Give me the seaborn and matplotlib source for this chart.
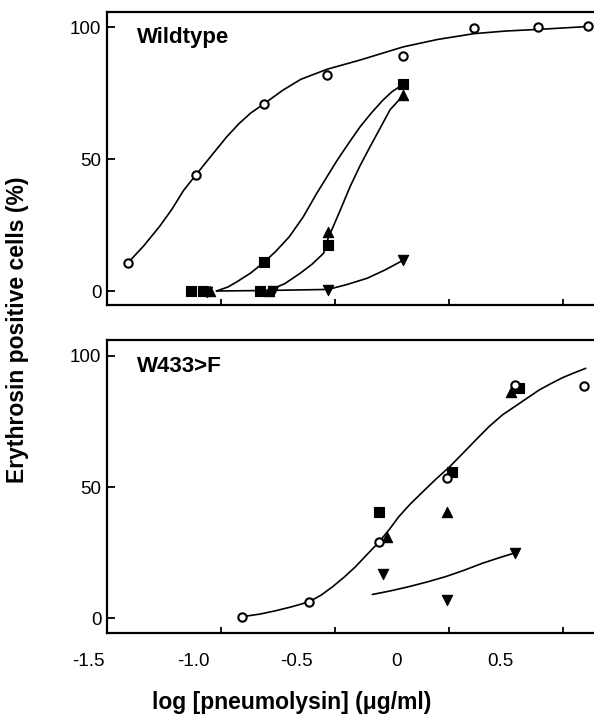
# Erythrosin uptake vs pneumolysin dose, wildtype and W433>F panels
import numpy as np
import matplotlib
matplotlib.use("Agg")
import matplotlib.pyplot as plt
import pandas as pd
import seaborn as sns

# ---- data (log dose, % positive cells) ----
# Wildtype panel: measured points
wt_open_x = [-1.41, -1.11, -0.81, -0.535, -0.20, 0.11, 0.39, 0.61]
wt_open_y = [10.5, 44, 71, 82, 89, 99.7, 100, 100.4]
wt_sq_x = [-1.13, -1.08, -0.83, -0.81, -0.53, -0.20]
wt_sq_y = [0, 0, 0, 11, 17.4, 78.4]
wt_tri_x = [-1.05, -0.79, -0.53, -0.20]
wt_tri_y = [0, 0, 22.5, 74.2]
wt_inv_x = [-1.06, -0.77, -0.53, -0.20]
wt_inv_y = [-0.5, 0, 0.4, 11.7]

# Wildtype panel: fitted curves (traced)
wt_fit_open_x = [-1.41, -1.34, -1.27, -1.215, -1.165, -1.11, -1.04, -0.975, -0.92, -0.87, -0.81,
                 -0.73, -0.65, -0.535, -0.39, -0.2, -0.05, 0.11, 0.25, 0.39, 0.61]
wt_fit_open_y = [10.5, 17, 24.4, 31, 38, 44, 51.5, 58.4, 63.5, 67.4, 71,
                 76, 80.2, 84, 87.5, 92.5, 95.3, 97.5, 98.5, 99.1, 100.2]
wt_fit_sq_x = [-1.02, -0.97, -0.93, -0.87, -0.81, -0.76, -0.70, -0.64, -0.58, -0.49, -0.44, -0.39,
               -0.34, -0.29, -0.25, -0.20]
wt_fit_sq_y = [0, 1.5, 3.5, 6.8, 11, 15, 20.6, 28, 37, 49.6, 56, 62.2, 67.5, 72.3, 75.5, 78.4]
wt_fit_tri_x = [-0.785, -0.72, -0.653, -0.60, -0.55, -0.53, -0.48, -0.434, -0.39, -0.346, -0.30,
                -0.259, -0.20]
wt_fit_tri_y = [0.4, 2.8, 6.7, 10.2, 14.3, 20, 30, 39.5, 47.5, 54.7, 62, 68.6, 74.2]
wt_fit_inv_x = [-1.02, -0.80, -0.53, -0.45, -0.36, -0.28, -0.20]
wt_fit_inv_y = [0, 0.2, 0.6, 2.4, 4.8, 8, 11.7]

# W433>F panel: measured points
mut_open_x = [-0.91, -0.614, -0.307, -0.007, 0.29, 0.59]
mut_open_y = [0.5, 6.2, 29.1, 53.3, 88.9, 88.5]
mut_sq_x = [-0.307, 0.015, 0.307]
mut_sq_y = [40.6, 55.8, 87.7]
mut_tri_x = [-0.27, -0.007, 0.27]
mut_tri_y = [31, 40.6, 86.4]
mut_inv_x = [-0.29, -0.007, 0.29]
mut_inv_y = [17, 6.9, 24.7]

# W433>F panel: fitted curves (traced)
mut_fit_x = [-0.91, -0.83, -0.76, -0.69, -0.614, -0.56, -0.51, -0.46, -0.41, -0.36, -0.307, -0.26,
             -0.22, -0.17, -0.117, -0.06, 0.0, 0.06, 0.117, 0.175, 0.234, 0.29, 0.336, 0.395, 0.45,
             0.5, 0.55, 0.60]
mut_fit_y = [0.5, 1.5, 2.8, 4.3, 6.2, 8.8, 12, 15.6, 19.6, 24.2, 29, 34, 38.7, 43.5, 48, 52.8,
             57.5, 62.8, 67.9, 73, 77.5, 80.8, 83.5, 87, 89.6, 91.8, 93.6, 95.3]
mut_fit_inv_x = [-0.336, -0.255, -0.175, -0.095, -0.015, 0.065, 0.146, 0.22, 0.29]
mut_fit_inv_y = [9.0, 10.4, 12, 13.8, 15.8, 18.2, 20.9, 23, 24.9]

tick_vals = [-1.0, -0.5, 0.0, 0.5]
tick_labels = ["-1.5", "-1.0", "-0.5", "0", "0.5"]
# the printed labels sit offset from the tick marks in the original figure
tick_label_px = [88, 193, 296, 397, 500]

sns.set_style("ticks")
plt.rcParams['font.family'] = ['Liberation Sans', 'DejaVu Sans']
plt.rcParams['text.color'] = 'black'
plt.rcParams['axes.edgecolor'] = 'black'
plt.rcParams['xtick.color'] = 'black'
plt.rcParams['ytick.color'] = 'black'

W, H = 594, 719
fig = plt.figure(figsize=(W / 100, H / 100), dpi=100)
ax_top = fig.add_axes([107 / W, 1 - 305 / H, 1 - 107 / W, 293 / H])
ax_bot = fig.add_axes([107 / W, 1 - 633 / H, 1 - 107 / W, 293 / H])


def fit_line(ax, x, y):
    sns.lineplot(x=x, y=y, ax=ax, color="black", lw=1.2, sort=False, estimator=None)


def points(ax, x, y, marker, face, size):
    sns.scatterplot(x=x, y=y, ax=ax, marker=marker, s=size, color=face,
                    edgecolor="black", linewidth=1.5 if face == "white" else 0.8, zorder=5)


# Wildtype
fit_line(ax_top, wt_fit_open_x, wt_fit_open_y)
fit_line(ax_top, wt_fit_sq_x, wt_fit_sq_y)
fit_line(ax_top, wt_fit_tri_x, wt_fit_tri_y)
fit_line(ax_top, wt_fit_inv_x, wt_fit_inv_y)
points(ax_top, wt_sq_x, wt_sq_y, "s", "black", 45)
points(ax_top, wt_tri_x, wt_tri_y, "^", "black", 55)
points(ax_top, wt_inv_x, wt_inv_y, "v", "black", 55)
points(ax_top, wt_open_x, wt_open_y, "o", "white", 36)

# W433>F
fit_line(ax_bot, mut_fit_x, mut_fit_y)
fit_line(ax_bot, mut_fit_inv_x, mut_fit_inv_y)
points(ax_bot, mut_sq_x, mut_sq_y, "s", "black", 45)
points(ax_bot, mut_tri_x, mut_tri_y, "^", "black", 55)
points(ax_bot, mut_inv_x, mut_inv_y, "v", "black", 55)
points(ax_bot, mut_open_x, mut_open_y, "o", "white", 36)

for ax, ylo, yhi in [(ax_top, -5.3, 105.7), (ax_bot, -5.7, 106.1)]:
    ax.set_xlim(-1.5, 0.636)
    ax.set_ylim(ylo, yhi)
    ax.set_xticks(tick_vals)
    ax.set_xticklabels([])
    ax.set_yticks([0, 50, 100])
    ax.set_yticklabels(["0", "50", "100"], fontsize=13.5)
    ax.tick_params(axis="y", direction="in", length=6, width=1.3, pad=4)
    ax.tick_params(axis="x", direction="in", length=4, width=1.3)
    ax.spines["right"].set_visible(False)
    for s in ["left", "top", "bottom"]:
        ax.spines[s].set_linewidth(1.6)
    ax.set_xlabel("")
    ax.set_ylabel("")

ax_top.text(0.062, 0.95, "Wildtype", transform=ax_top.transAxes, fontsize=16,
            fontweight="bold", ha="left", va="top")
ax_bot.text(0.062, 0.945, "W433>F", transform=ax_bot.transAxes, fontsize=16,
            fontweight="bold", ha="left", va="top")

for lab, px in zip(tick_labels, tick_label_px):
    fig.text(px / W, 1 - 661 / H, lab, ha="center", va="center", fontsize=13.5)

fig.text(292 / W, 1 - 702 / H, "log [pneumolysin] (\u03bcg/ml)", ha="center", va="center",
         fontsize=16.5, fontweight="bold")
fig.text(18 / W, 1 - 330 / H, "Erythrosin positive cells (%)", ha="center", va="center",
         rotation=90, fontsize=16.5, fontweight="bold")

fig.savefig("out.png", dpi=100)
